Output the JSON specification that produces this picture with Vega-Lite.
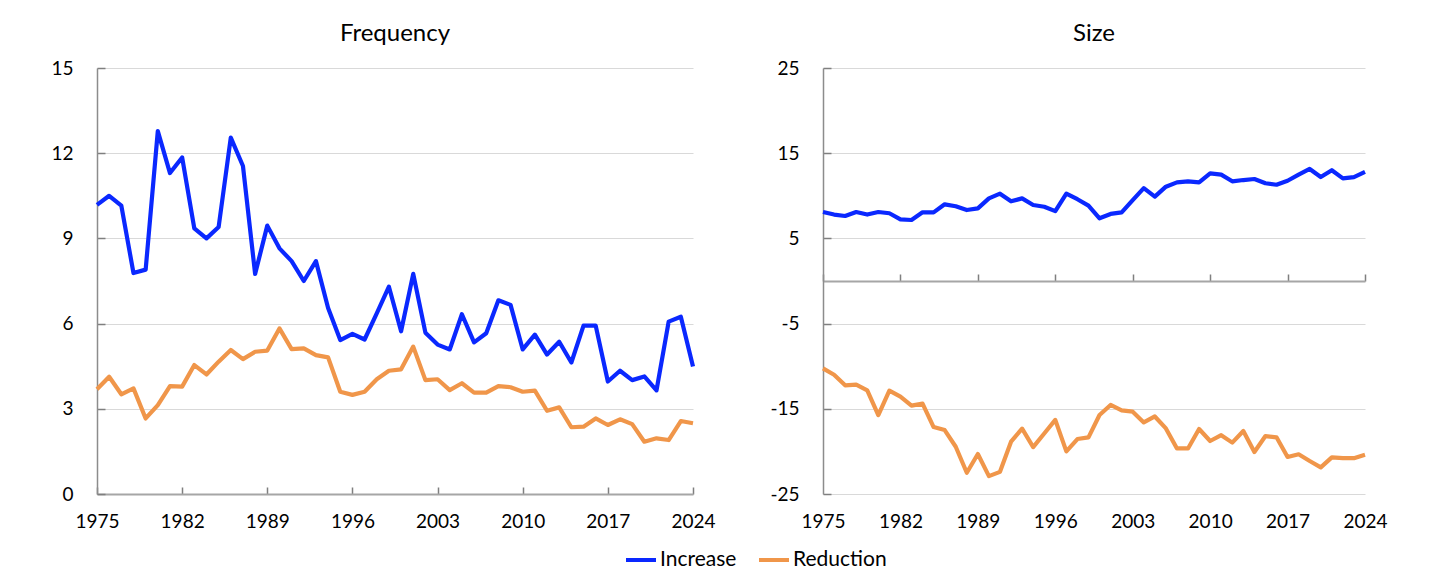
{
  "$schema": "https://vega.github.io/schema/vega-lite/v6.json",
  "padding": {"left": 50, "top": 22, "right": 5, "bottom": 5},
  "config": {
    "font": "Lato",
    "view": {"stroke": null},
    "axis": {
      "labelFont": "Lato",
      "labelFontSize": 19,
      "labelColor": "#000000",
      "labelFlush": false,
      "title": null,
      "gridColor": "#d9d9d9",
      "gridWidth": 1,
      "domainColor": "#a6a6a6",
      "domainWidth": 2,
      "tickColor": "#7f7f7f",
      "tickWidth": 1.5
    },
    "title": {"font": "Lato", "fontSize": 24, "fontWeight": "normal", "color": "#000000", "offset": 13},
    "legend": {
      "labelFont": "Lato",
      "labelFontSize": 21,
      "labelColor": "#000000",
      "symbolType": "stroke",
      "symbolStrokeWidth": 4,
      "symbolSize": 900,
      "labelOffset": 2,
      "columnPadding": 14
    }
  },
  "datasets": {
    "series": [
      {"year": 1975, "series": "Increase", "frequency": 10.18, "size": 8.1},
      {"year": 1976, "series": "Increase", "frequency": 10.5, "size": 7.8},
      {"year": 1977, "series": "Increase", "frequency": 10.15, "size": 7.63},
      {"year": 1978, "series": "Increase", "frequency": 7.78, "size": 8.1},
      {"year": 1979, "series": "Increase", "frequency": 7.9, "size": 7.8},
      {"year": 1980, "series": "Increase", "frequency": 12.78, "size": 8.1},
      {"year": 1981, "series": "Increase", "frequency": 11.3, "size": 7.95},
      {"year": 1982, "series": "Increase", "frequency": 11.85, "size": 7.24},
      {"year": 1983, "series": "Increase", "frequency": 9.35, "size": 7.16},
      {"year": 1984, "series": "Increase", "frequency": 9.0, "size": 8.06},
      {"year": 1985, "series": "Increase", "frequency": 9.4, "size": 8.06},
      {"year": 1986, "series": "Increase", "frequency": 12.55, "size": 9.0},
      {"year": 1987, "series": "Increase", "frequency": 11.55, "size": 8.77},
      {"year": 1988, "series": "Increase", "frequency": 7.75, "size": 8.33},
      {"year": 1989, "series": "Increase", "frequency": 9.45, "size": 8.53},
      {"year": 1990, "series": "Increase", "frequency": 8.65, "size": 9.7},
      {"year": 1991, "series": "Increase", "frequency": 8.2, "size": 10.25},
      {"year": 1992, "series": "Increase", "frequency": 7.5, "size": 9.35},
      {"year": 1993, "series": "Increase", "frequency": 8.2, "size": 9.7},
      {"year": 1994, "series": "Increase", "frequency": 6.55, "size": 8.92},
      {"year": 1995, "series": "Increase", "frequency": 5.42, "size": 8.72},
      {"year": 1996, "series": "Increase", "frequency": 5.64, "size": 8.2},
      {"year": 1997, "series": "Increase", "frequency": 5.44, "size": 10.25},
      {"year": 1998, "series": "Increase", "frequency": 6.36, "size": 9.6},
      {"year": 1999, "series": "Increase", "frequency": 7.3, "size": 8.85},
      {"year": 2000, "series": "Increase", "frequency": 5.73, "size": 7.36},
      {"year": 2001, "series": "Increase", "frequency": 7.75, "size": 7.87},
      {"year": 2002, "series": "Increase", "frequency": 5.68, "size": 8.06},
      {"year": 2003, "series": "Increase", "frequency": 5.26, "size": 9.5},
      {"year": 2004, "series": "Increase", "frequency": 5.09, "size": 10.9},
      {"year": 2005, "series": "Increase", "frequency": 6.33, "size": 9.9},
      {"year": 2006, "series": "Increase", "frequency": 5.34, "size": 11.07},
      {"year": 2007, "series": "Increase", "frequency": 5.66, "size": 11.58},
      {"year": 2008, "series": "Increase", "frequency": 6.82, "size": 11.7},
      {"year": 2009, "series": "Increase", "frequency": 6.66, "size": 11.58},
      {"year": 2010, "series": "Increase", "frequency": 5.09, "size": 12.64},
      {"year": 2011, "series": "Increase", "frequency": 5.61, "size": 12.48},
      {"year": 2012, "series": "Increase", "frequency": 4.91, "size": 11.7},
      {"year": 2013, "series": "Increase", "frequency": 5.36, "size": 11.85},
      {"year": 2014, "series": "Increase", "frequency": 4.63, "size": 11.97},
      {"year": 2015, "series": "Increase", "frequency": 5.93, "size": 11.47},
      {"year": 2016, "series": "Increase", "frequency": 5.93, "size": 11.3},
      {"year": 2017, "series": "Increase", "frequency": 3.96, "size": 11.77},
      {"year": 2018, "series": "Increase", "frequency": 4.34, "size": 12.48},
      {"year": 2019, "series": "Increase", "frequency": 4.01, "size": 13.15},
      {"year": 2020, "series": "Increase", "frequency": 4.14, "size": 12.2},
      {"year": 2021, "series": "Increase", "frequency": 3.65, "size": 13.0},
      {"year": 2022, "series": "Increase", "frequency": 6.07, "size": 12.05},
      {"year": 2023, "series": "Increase", "frequency": 6.24, "size": 12.2},
      {"year": 2024, "series": "Increase", "frequency": 4.49, "size": 12.8},
      {"year": 1975, "series": "Reduction", "frequency": 3.69, "size": -10.25},
      {"year": 1976, "series": "Reduction", "frequency": 4.13, "size": -11.0},
      {"year": 1977, "series": "Reduction", "frequency": 3.51, "size": -12.24},
      {"year": 1978, "series": "Reduction", "frequency": 3.72, "size": -12.17},
      {"year": 1979, "series": "Reduction", "frequency": 2.66, "size": -12.83},
      {"year": 1980, "series": "Reduction", "frequency": 3.13, "size": -15.73},
      {"year": 1981, "series": "Reduction", "frequency": 3.8, "size": -12.87},
      {"year": 1982, "series": "Reduction", "frequency": 3.78, "size": -13.57},
      {"year": 1983, "series": "Reduction", "frequency": 4.54, "size": -14.63},
      {"year": 1984, "series": "Reduction", "frequency": 4.21, "size": -14.4},
      {"year": 1985, "series": "Reduction", "frequency": 4.66, "size": -17.14},
      {"year": 1986, "series": "Reduction", "frequency": 5.07, "size": -17.5},
      {"year": 1987, "series": "Reduction", "frequency": 4.75, "size": -19.45},
      {"year": 1988, "series": "Reduction", "frequency": 5.01, "size": -22.5},
      {"year": 1989, "series": "Reduction", "frequency": 5.05, "size": -20.3},
      {"year": 1990, "series": "Reduction", "frequency": 5.83, "size": -22.9},
      {"year": 1991, "series": "Reduction", "frequency": 5.1, "size": -22.4},
      {"year": 1992, "series": "Reduction", "frequency": 5.13, "size": -18.86},
      {"year": 1993, "series": "Reduction", "frequency": 4.89, "size": -17.33},
      {"year": 1994, "series": "Reduction", "frequency": 4.81, "size": -19.5},
      {"year": 1995, "series": "Reduction", "frequency": 3.6, "size": -17.9},
      {"year": 1996, "series": "Reduction", "frequency": 3.49, "size": -16.3},
      {"year": 1997, "series": "Reduction", "frequency": 3.6, "size": -20.0},
      {"year": 1998, "series": "Reduction", "frequency": 4.04, "size": -18.55},
      {"year": 1999, "series": "Reduction", "frequency": 4.34, "size": -18.35},
      {"year": 2000, "series": "Reduction", "frequency": 4.39, "size": -15.73},
      {"year": 2001, "series": "Reduction", "frequency": 5.19, "size": -14.55},
      {"year": 2002, "series": "Reduction", "frequency": 4.01, "size": -15.18},
      {"year": 2003, "series": "Reduction", "frequency": 4.04, "size": -15.34},
      {"year": 2004, "series": "Reduction", "frequency": 3.66, "size": -16.6},
      {"year": 2005, "series": "Reduction", "frequency": 3.9, "size": -15.9},
      {"year": 2006, "series": "Reduction", "frequency": 3.57, "size": -17.3},
      {"year": 2007, "series": "Reduction", "frequency": 3.57, "size": -19.65},
      {"year": 2008, "series": "Reduction", "frequency": 3.8, "size": -19.65},
      {"year": 2009, "series": "Reduction", "frequency": 3.76, "size": -17.37},
      {"year": 2010, "series": "Reduction", "frequency": 3.6, "size": -18.78},
      {"year": 2011, "series": "Reduction", "frequency": 3.64, "size": -18.1},
      {"year": 2012, "series": "Reduction", "frequency": 2.93, "size": -18.97},
      {"year": 2013, "series": "Reduction", "frequency": 3.05, "size": -17.6},
      {"year": 2014, "series": "Reduction", "frequency": 2.35, "size": -20.07},
      {"year": 2015, "series": "Reduction", "frequency": 2.37, "size": -18.2},
      {"year": 2016, "series": "Reduction", "frequency": 2.66, "size": -18.35},
      {"year": 2017, "series": "Reduction", "frequency": 2.43, "size": -20.65},
      {"year": 2018, "series": "Reduction", "frequency": 2.63, "size": -20.34},
      {"year": 2019, "series": "Reduction", "frequency": 2.46, "size": -21.13},
      {"year": 2020, "series": "Reduction", "frequency": 1.84, "size": -21.87},
      {"year": 2021, "series": "Reduction", "frequency": 1.96, "size": -20.7},
      {"year": 2022, "series": "Reduction", "frequency": 1.9, "size": -20.8},
      {"year": 2023, "series": "Reduction", "frequency": 2.57, "size": -20.8},
      {"year": 2024, "series": "Reduction", "frequency": 2.49, "size": -20.4}
    ]
  },
  "data": {"name": "series"},
  "spacing": 130,
  "bounds": "flush",
  "resolve": {"scale": {"color": "shared"}, "legend": {"color": "shared"}},
  "hconcat": [
    {
      "width": 596,
      "height": 426,
      "title": {"text": "Frequency", "frame": "group"},
      "mark": {"type": "line", "strokeWidth": 4.2, "strokeJoin": "round"},
      "encoding": {
        "x": {
          "field": "year",
          "type": "quantitative",
          "scale": {"domain": [1975, 2024], "nice": false, "zero": false},
          "axis": {
            "values": [1975, 1982, 1989, 1996, 2003, 2010, 2017, 2024],
            "format": "d",
            "grid": false,
            "tickSize": -7,
            "labelPadding": 25
          }
        },
        "y": {
          "field": "frequency",
          "type": "quantitative",
          "scale": {"domain": [0, 15], "nice": false},
          "axis": {
            "values": [0, 3, 6, 9, 12, 15],
            "grid": true,
            "domainColor": "#8c8c8c",
            "domainWidth": 1.5,
            "tickSize": -8,
            "labelPadding": 32
          }
        },
        "color": {
          "field": "series",
          "type": "nominal",
          "scale": {"domain": ["Increase", "Reduction"], "range": ["#0A28FF", "#F0964A"]},
          "legend": {"title": null, "orient": "none", "direction": "horizontal", "legendX": 527, "legendY": 475}
        }
      }
    },
    {
      "width": 542,
      "height": 426,
      "title": {"text": "Size", "frame": "group"},
      "mark": {"type": "line", "strokeWidth": 4.2, "strokeJoin": "round"},
      "encoding": {
        "x": {
          "field": "year",
          "type": "quantitative",
          "scale": {"domain": [1975, 2024], "nice": false, "zero": false},
          "axis": {
            "values": [1975, 1982, 1989, 1996, 2003, 2010, 2017, 2024],
            "format": "d",
            "grid": false,
            "offset": -213,
            "tickSize": -7,
            "labelPadding": 238
          }
        },
        "y": {
          "field": "size",
          "type": "quantitative",
          "scale": {"domain": [-25, 25], "nice": false},
          "axis": {
            "values": [-25, -15, -5, 5, 15, 25],
            "labelExpr": "'' + datum.value",
            "grid": true,
            "domainColor": "#8c8c8c",
            "domainWidth": 1.5,
            "tickSize": -8,
            "labelPadding": 32
          }
        },
        "color": {
          "field": "series",
          "type": "nominal",
          "scale": {"domain": ["Increase", "Reduction"], "range": ["#0A28FF", "#F0964A"]},
          "legend": {"title": null, "orient": "none", "direction": "horizontal", "legendX": 527, "legendY": 475}
        }
      }
    }
  ]
}
